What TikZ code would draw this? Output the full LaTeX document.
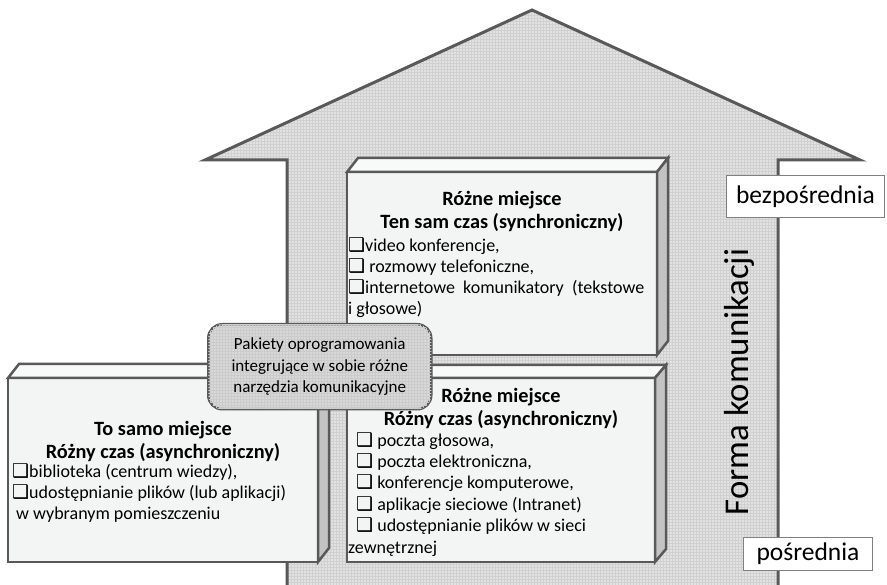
\documentclass[tikz,border=0pt]{standalone}
\usepackage{fontspec}
\setmainfont{Carlito}
\newfontfamily\symfont{DejaVu Sans}
\usetikzlibrary{patterns,calc}
\definecolor{edgec}{HTML}{595959}
\definecolor{arrowc}{HTML}{E2E2E2}
\definecolor{gridc}{HTML}{D0D0D0}
\definecolor{frontc}{HTML}{F3F4F4}
\definecolor{topc}{HTML}{F8F9F9}
\definecolor{sidec}{HTML}{C3C3C3}
\definecolor{calloutc}{HTML}{D8D8D8}
\definecolor{callgridc}{HTML}{CBCBCB}
\definecolor{labelc}{HTML}{808080}
\newcommand{\boxmark}{{\symfont\fontsize{19}{19}\selectfont ❑}}
\tikzset{
  frontface/.style={draw=edgec, fill=frontc, line width=2.5pt, outer sep=0pt, inner sep=0pt, line join=miter},
  topface/.style={draw=edgec, fill=topc, line width=2.5pt, line join=miter},
  sideface/.style={draw=edgec, fill=sidec, line width=2.5pt, line join=miter},
  titletext/.style={font=\fontsize{20.3}{23}\selectfont\bfseries, align=center, inner sep=0pt},
  bodytext/.style={font=\fontsize{18}{21}\selectfont, align=flush left, inner sep=0pt},
  calloutbox/.style={draw=edgec, fill=calloutc, line width=2.5pt, rounded corners=14pt,
    postaction={pattern=grid, pattern color=callgridc},
    font=\fontsize{17}{21.5}\selectfont, align=center, inner sep=0pt,
    minimum width=223pt, minimum height=85pt},
  labelbox/.style={draw=labelc, fill=white, line width=1pt, inner sep=0pt,
    font=\fontsize{25.5}{28}\selectfont},
}
\begin{document}
\begin{tikzpicture}[x=1pt,y=-1pt]
\useasboundingbox (0,0) rectangle (887,585);
% big arrow
\fill[arrowc] (287,585) -- (287,160) -- (205,160) -- (532,10) -- (860,160) -- (778,160) -- (778,585) -- cycle;
\fill[pattern=grid, pattern color=gridc] (287,585) -- (287,160) -- (205,160) -- (532,10) -- (860,160) -- (778,160) -- (778,585) -- cycle;
\draw[edgec, line width=3pt, line join=miter] (287,590) -- (287,160) -- (205,160) -- (532,10) -- (860,160) -- (778,160) -- (778,590);

% top box
\node[frontface, minimum width=310pt, minimum height=183pt, anchor=north west] (topbox) at (347,172) {};
\filldraw[topface] (topbox.north west) -- ++(11,-14) -- ($(topbox.north east)+(11,-14)$) -- (topbox.north east) -- cycle;
\filldraw[sideface] (topbox.north east) -- ++(11,-14) -- ($(topbox.south east)+(11,-14)$) -- (topbox.south east) -- cycle;
\node[titletext, anchor=north] (toptitle) at (502,190) {\rule{0pt}{15pt}Różne miejsce\\Ten sam czas (synchroniczny)};
\node[bodytext, text width=296pt, anchor=north west] (topbody) at (348,237)
  {\rule{0pt}{13pt}\boxmark video konferencje,\\
   \boxmark\ rozmowy telefoniczne,\\
   \boxmark internetowe\hfill komunikatory\hfill (tekstowe\\
   i głosowe)};

% bottom box
\node[frontface, minimum width=308pt, minimum height=184pt, anchor=north west] (botbox) at (347,378) {};
\filldraw[topface] (botbox.north west) -- ++(11,-13) -- ($(botbox.north east)+(11,-13)$) -- (botbox.north east) -- cycle;
\filldraw[sideface] (botbox.north east) -- ++(11,-13) -- ($(botbox.south east)+(11,-13)$) -- (botbox.south east) -- cycle;
\node[titletext, anchor=north] (bottitle) at (501,387) {\rule{0pt}{15pt}Różne miejsce\\Różny czas (asynchroniczny)};
\node[bodytext, text width=300pt, anchor=north west, font=\fontsize{18}{21.4}\selectfont] (botbody) at (348,432)
  {\rule{0pt}{13pt}\hspace*{8pt}\boxmark\ poczta głosowa,\\
   \hspace*{8pt}\boxmark\ poczta elektroniczna,\\
   \hspace*{8pt}\boxmark\ konferencje komputerowe,\\
   \hspace*{8pt}\boxmark\ aplikacje sieciowe (Intranet)\\
   \hspace*{8pt}\boxmark\ udostępnianie plików w sieci\\
   zewnętrznej};

% left box
\node[frontface, minimum width=310pt, minimum height=184pt, anchor=north west] (leftbox) at (8,378) {};
\filldraw[topface] (leftbox.north west) -- ++(11,-14) -- ($(leftbox.north east)+(11,-14)$) -- (leftbox.north east) -- cycle;
\filldraw[sideface] (leftbox.north east) -- ++(11,-14) -- ($(leftbox.south east)+(11,-14)$) -- (leftbox.south east) -- cycle;
\node[titletext, anchor=north] (lefttitle) at (163,420) {\rule{0pt}{15pt}To samo miejsce\\Różny czas (asynchroniczny)};
\node[bodytext, text width=300pt, anchor=north west] (leftbody) at (12,463)
  {\rule{0pt}{13pt}\boxmark biblioteka (centrum wiedzy),\\
   \boxmark udostępnianie plików (lub aplikacji)\\
   \hspace*{4pt}w wybranym pomieszczeniu};

% callout
\node[calloutbox, anchor=north west] (pakiety) at (207,323)
  {Pakiety oprogramowania\\integrujące w sobie różne\\narzędzia komunikacyjne};

% labels
\node[labelbox, minimum width=158pt, minimum height=42pt, anchor=north west] (bezp) at (726,175) {bezpośrednia};
\node[labelbox, minimum width=129pt, minimum height=33pt, anchor=north west] (posr) at (743,537) {pośrednia};
\node[font=\fontsize{34.8}{40}\selectfont, rotate=90, anchor=base, inner sep=0pt] (forma) at (748,382) {Forma komunikacji};
\end{tikzpicture}
\end{document}
